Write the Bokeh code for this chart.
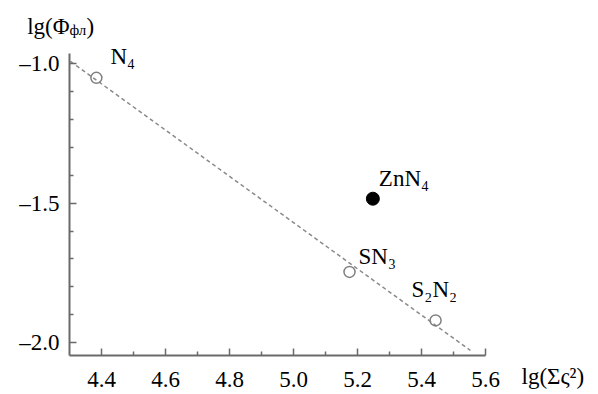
from bokeh.plotting import figure
from bokeh.models import Range1d, FixedTicker, ColumnDataSource
from bokeh.core.properties import value
from bokeh.embed import file_html
from bokeh.resources import INLINE

# ---- data ----
open_names = ["N₄", "SN₃", "S₂N₂"]
open_x = [4.384, 5.175, 5.444]
open_y = [-1.050, -1.747, -1.921]

filled_names = ["ZnN₄"]
filled_x = [5.248]
filled_y = [-1.484]

fit_x = [4.303, 5.553]
fit_y = [-0.991, -2.029]

x_ticks = [4.4, 4.6, 4.8, 5.0, 5.2, 5.4, 5.6]
x_tick_labels = ["4.4", "4.6", "4.8", "5.0", "5.2", "5.4", "5.6"]
x_minor = [4.5, 4.7, 4.9, 5.1, 5.3, 5.5]
y_ticks = [-2.0, -1.5, -1.0]
y_tick_labels = ["–2.0", "–1.5", "–1.0"]
y_minor = [-1.9, -1.8, -1.7, -1.6, -1.4, -1.3, -1.2, -1.1]

x_title_main = "lg(Σς²)"
y_title_main = "lg(Φ"
y_title_sub = "фл"
y_title_end = ")"

# ---- layout / style ----
W, H = 598, 394
AX_X0, AX_X1 = 4.3, 5.6          # extent of the drawn x axis
AX_Y0, AX_Y1 = -2.047, -0.962    # extent of the drawn y axis
PX_X = 320.0                     # pixels per x unit
PX_Y = 278.5                     # pixels per y unit
LEFT_PX, BOTTOM_PX = 69, 355     # axis corner position on the canvas

x_range = Range1d(AX_X0 - LEFT_PX / PX_X, AX_X0 + (W - LEFT_PX) / PX_X)
y_range = Range1d(AX_Y0 - (H - BOTTOM_PX) / PX_Y, AX_Y0 + BOTTOM_PX / PX_Y)

# label offsets (screen px, down positive)
open_dx = [14, 9, -24]
open_dy = [-21, -15, -31]
filled_dx = [6]
filled_dy = [-20]

FONT = "Liberation Serif"
FS = "23px"
AX = "#6a6a6a"

p = figure(width=W, height=H, output_backend="svg", toolbar_location=None,
           x_range=x_range, y_range=y_range, min_border=0)
p.outline_line_color = None
p.xgrid.visible = False
p.ygrid.visible = False
p.background_fill_color = "white"
p.border_fill_color = "white"

p.xaxis.fixed_location = AX_Y0
p.yaxis.fixed_location = AX_X0
p.xaxis.bounds = (AX_X0, AX_X1)
p.yaxis.bounds = (AX_Y0, AX_Y1)

p.xaxis.ticker = FixedTicker(ticks=x_ticks, minor_ticks=x_minor)
p.yaxis.ticker = FixedTicker(ticks=y_ticks, minor_ticks=y_minor)
p.xaxis.major_label_overrides = {t: l for t, l in zip(x_ticks, x_tick_labels)}
p.yaxis.major_label_overrides = {t: l for t, l in zip(y_ticks, y_tick_labels)}

for ax in (p.xaxis, p.yaxis):
    ax.axis_line_color = AX
    ax.axis_line_width = 2
    ax.major_tick_line_color = AX
    ax.major_tick_line_width = 1.5
    ax.minor_tick_line_color = AX
    ax.minor_tick_line_width = 1.5
    ax.major_tick_in = 7
    ax.major_tick_out = 0
    ax.minor_tick_in = 4
    ax.minor_tick_out = 0
    ax.major_label_text_font = FONT
    ax.major_label_text_font_size = FS
    ax.major_label_text_color = "black"
p.xaxis.major_label_standoff = 16
p.yaxis.major_label_standoff = 10

# fitted dashed line
p.line(fit_x, fit_y, line_color="#8a8a8a", line_width=1.5, line_dash="4 3")

# points
p.scatter(open_x, open_y, marker="circle", size=11, fill_alpha=0,
          line_color="#808080", line_width=1.5)
p.scatter(filled_x, filled_y, marker="circle", size=13, fill_color="black",
          line_color="black")

# point labels
lab = ColumnDataSource(dict(x=open_x + filled_x, y=open_y + filled_y,
                            t=open_names + filled_names,
                            dx=open_dx + filled_dx, dy=open_dy + filled_dy))
p.text(x="x", y="y", text="t", x_offset="dx", y_offset="dy", source=lab,
       text_font=value(FONT), text_font_size=FS, text_baseline="alphabetic",
       text_align="left", text_color="black")

# axis titles (anchored to axis ends)
p.text(x=[AX_X0], y=[AX_Y1], text=[y_title_main], x_offset=0, y_offset=-27,
       text_font=value(FONT), text_font_size=FS, text_align="right",
       text_baseline="alphabetic", text_color="black")
p.text(x=[AX_X0], y=[AX_Y1], text=[y_title_sub], x_offset=0, y_offset=-23,
       text_font=value(FONT), text_font_size="15px", text_align="left",
       text_baseline="alphabetic", text_color="black")
p.text(x=[AX_X0], y=[AX_Y1], text=[y_title_end], x_offset=17, y_offset=-27,
       text_font=value(FONT), text_font_size=FS, text_align="left",
       text_baseline="alphabetic", text_color="black")
p.text(x=[AX_X1], y=[AX_Y0], text=[x_title_main], x_offset=36, y_offset=21,
       text_font=value(FONT), text_font_size=FS, text_align="left",
       text_baseline="alphabetic", text_color="black")

open("out.html", "w").write(file_html(p, INLINE))
